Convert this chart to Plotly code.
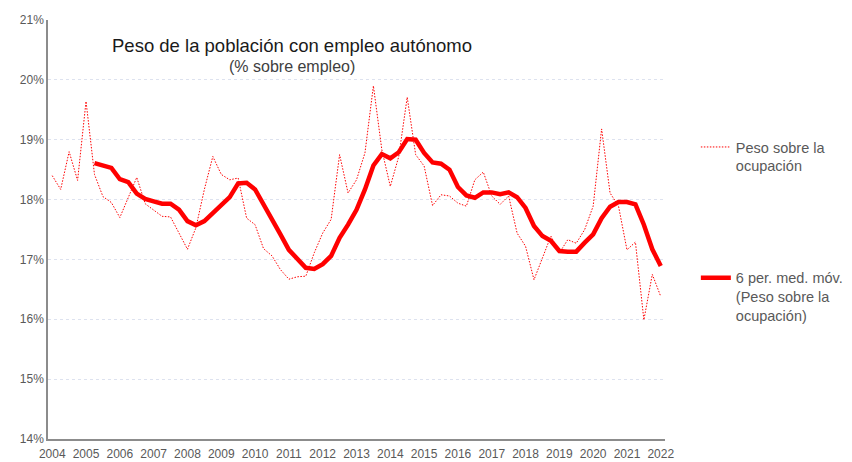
import plotly.graph_objects as go

# Quarterly periods 2004-T1 .. 2022-T1
periods = [f"{y}-T{q}" for y in range(2004, 2023) for q in range(1, 5)][:73]
year_labels = [str(y) for y in range(2004, 2023)]

# Peso sobre la ocupación (%)
peso = [18.40, 18.17, 18.80, 18.32, 19.64, 18.42, 18.05, 17.95, 17.70, 18.05,
        18.37, 17.93, 17.83, 17.72, 17.71, 17.44, 17.17, 17.53, 18.17, 18.72,
        18.42, 18.33, 18.36, 17.69, 17.58, 17.18, 17.06, 16.83, 16.67, 16.71,
        16.72, 17.11, 17.44, 17.67, 18.75, 18.11, 18.33, 18.78, 19.90, 18.83,
        18.22, 18.72, 19.71, 18.75, 18.56, 17.90, 18.08, 18.06, 17.94, 17.89,
        18.33, 18.46, 18.06, 17.92, 18.06, 17.44, 17.22, 16.66, 17.03, 17.39,
        17.11, 17.33, 17.27, 17.50, 17.89, 19.18, 18.11, 17.89, 17.16, 17.29,
        15.99, 16.75, 16.38]

# 6 per. med. móv. (Peso sobre la ocupación)
media_movil = [None, None, None, None, None, 18.61, 18.57, 18.53, 18.34, 18.29,
               18.10, 18.01, 17.97, 17.93, 17.93, 17.83, 17.64, 17.57, 17.64, 17.78,
               17.90, 18.04, 18.27, 18.28, 18.17, 17.93, 17.67, 17.42, 17.16, 17.00,
               16.86, 16.84, 16.92, 17.06, 17.36, 17.58, 17.83, 18.17, 18.57, 18.76,
               18.69, 18.79, 19.01, 19.00, 18.78, 18.62, 18.60, 18.50, 18.21, 18.07,
               18.03, 18.12, 18.12, 18.09, 18.12, 18.04, 17.86, 17.56, 17.39, 17.31,
               17.14, 17.13, 17.13, 17.28, 17.42, 17.69, 17.88, 17.96, 17.96, 17.92,
               17.58, 17.17, 16.89]

FONT = "Liberation Sans, Arial, sans-serif"

fig = go.Figure()
fig.add_trace(go.Scatter(
    x=periods, y=peso, mode="lines", name="Peso sobre la<br>ocupación",
    line=dict(color="#FF0000", width=1, dash="1.5px,1.5px"), legendgroup="a",
))
fig.add_trace(go.Scatter(
    x=periods, y=media_movil, mode="lines",
    name="6 per. med. móv.<br>(Peso sobre la<br>ocupación)",
    line=dict(color="#FF0000", width=4.5), legendgroup="b",
))

# the page adds an 8px body margin, so the figure is 8px smaller than the window
fig.update_layout(
    width=844, height=454,
    margin=dict(l=40, r=187, t=12, b=23, autoexpand=False),
    paper_bgcolor="white", plot_bgcolor="white",
    font=dict(family=FONT, color="#595959", size=12),
    showlegend=True,
    legend=dict(
        x=1.050, y=0.735, xanchor="left", yanchor="top",
        font=dict(family=FONT, size=14.5, color="#595959"),
        tracegroupgap=90, valign="top", bgcolor="rgba(0,0,0,0)",
    ),
    annotations=[
        dict(text="Peso de la población con empleo autónomo", x=0.3955, y=0.938,
             xref="paper", yref="paper", showarrow=False, xanchor="center", yanchor="middle",
             font=dict(family=FONT, size=18.5, color="#1a1a1a")),
        dict(text="(% sobre empleo)", x=0.3955, y=0.888,
             xref="paper", yref="paper", showarrow=False, xanchor="center", yanchor="middle",
             font=dict(family=FONT, size=16, color="#404040")),
    ],
)

fig.update_xaxes(
    type="category", range=[-0.5, 72.5], automargin=False,
    tickmode="array", tickvals=periods[::4], ticktext=year_labels,
    showgrid=False, showline=True, linecolor="#8c8c8c", linewidth=1.5,
    ticks="", tickfont=dict(size=12, color="#595959"), tickangle=0,
    ticklabelstandoff=3,
)
fig.update_yaxes(
    range=[14, 21], dtick=1, tickformat="d", ticksuffix="%", automargin=False,
    showgrid=True, gridcolor="#dde2ef", griddash="dot", gridwidth=1,
    showline=True, linecolor="#8c8c8c", linewidth=1.5,
    zeroline=False, ticks="", tickfont=dict(size=12, color="#595959"),
)

fig.write_html("out.html")
